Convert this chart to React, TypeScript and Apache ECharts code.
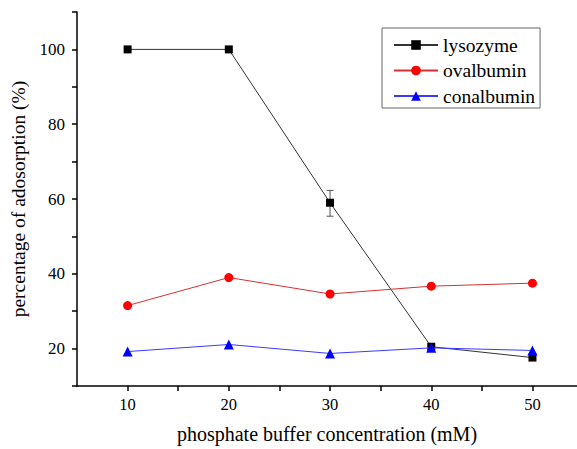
import React, { useEffect, useRef } from "react";
import * as echarts from "echarts";

const concentrations = [10, 20, 30, 40, 50];
const lysozyme = [100, 100, 59, 20.5, 17.6];
const ovalbumin = [31.5, 39.0, 34.6, 36.7, 37.5];
const conalbumin = [19.2, 21.1, 18.7, 20.2, 19.5];
// error bar: [x, low, high]
const lysozymeError = [[30, 55.4, 62.3]];

const FONT = "'Liberation Serif', 'Times New Roman', serif";

export default function App() {
  const ref = useRef<HTMLDivElement>(null);
  useEffect(() => {
    if (!ref.current) return;
    document.body.style.margin = "0";
    const chart = echarts.init(ref.current, null, { renderer: "svg" });
    const pair = (ys: number[]) => concentrations.map((x, i) => [x, ys[i]]);
    chart.setOption({
      animation: false,
      backgroundColor: "#fff",
      grid: { left: 77, right: 0, top: 12, bottom: 60, containLabel: false },
      legend: {
        orient: "vertical",
        left: 382,
        top: 28,
        borderColor: "#666",
        borderWidth: 1,
        padding: [7, 5, 2, 11],
        itemWidth: 44,
        itemHeight: 12,
        itemGap: 5.5,
        textStyle: { fontFamily: FONT, fontSize: 19.5, color: "#000", lineHeight: 18 },
        data: ["lysozyme", "ovalbumin", "conalbumin"],
      },
      xAxis: {
        type: "value",
        min: 5,
        max: 54.4,
        interval: 5,
        splitLine: { show: false },
        axisLine: { lineStyle: { color: "#000", width: 1.5 } },
        axisTick: { inside: false, length: 5, lineStyle: { color: "#000", width: 1.5 } },
        axisLabel: {
          margin: 10,
          fontFamily: FONT,
          fontSize: 16.5,
          color: "#000",
          showMinLabel: false,
          showMaxLabel: false,
          formatter: (v: number) => (v % 10 === 0 && v <= 50 ? String(v) : ""),
        },
        name: "phosphate buffer concentration (mM)",
        nameLocation: "middle",
        nameGap: 38,
        nameTextStyle: { fontFamily: FONT, fontSize: 20, color: "#000" },
      },
      yAxis: {
        type: "value",
        min: 10,
        max: 110,
        interval: 10,
        splitLine: { show: false },
        axisLine: { show: true, lineStyle: { color: "#000", width: 1.5 } },
        axisTick: { show: true, inside: false, length: 5, lineStyle: { color: "#000", width: 1.5 } },
        axisLabel: {
          margin: 12,
          fontFamily: FONT,
          fontSize: 17,
          color: "#000",
          formatter: (v: number) => (v % 20 === 0 && v <= 100 ? String(v) : ""),
        },
        name: "percentage of adosorption (%)",
        nameLocation: "middle",
        nameGap: 39,
        nameTextStyle: { fontFamily: FONT, fontSize: 19.5, color: "#000" },
      },
      series: [
        {
          name: "lysozyme",
          type: "line",
          data: pair(lysozyme),
          symbol: "rect",
          symbolSize: 8,
          itemStyle: { color: "#000" },
          lineStyle: { color: "#333", width: 1 },
          z: 3,
        },
        {
          name: "ovalbumin",
          type: "line",
          data: pair(ovalbumin),
          symbol: "circle",
          symbolSize: 9,
          itemStyle: { color: "#ff0000" },
          lineStyle: { color: "#d83030", width: 1 },
          z: 3,
        },
        {
          name: "conalbumin",
          type: "line",
          data: pair(conalbumin),
          symbol: "triangle",
          symbolSize: 10,
          itemStyle: { color: "#0000ff" },
          lineStyle: { color: "#3a3aff", width: 1 },
          z: 4,
        },
        {
          type: "custom",
          data: lysozymeError,
          z: 2,
          renderItem: (params: any, api: any) => {
            const x = api.value(0);
            const lo = api.coord([x, api.value(1)]);
            const hi = api.coord([x, api.value(2)]);
            const hw = 3.5;
            const style = { stroke: "#555", lineWidth: 1 };
            return {
              type: "group",
              children: [
                { type: "line", shape: { x1: lo[0], y1: lo[1], x2: hi[0], y2: hi[1] }, style },
                { type: "line", shape: { x1: lo[0] - hw, y1: lo[1], x2: lo[0] + hw, y2: lo[1] }, style },
                { type: "line", shape: { x1: hi[0] - hw, y1: hi[1], x2: hi[0] + hw, y2: hi[1] }, style },
              ],
            };
          },
        },
      ],
    });
    return () => chart.dispose();
  }, []);
  return <div ref={ref} style={{ width: 577, height: 449 }} />;
}
